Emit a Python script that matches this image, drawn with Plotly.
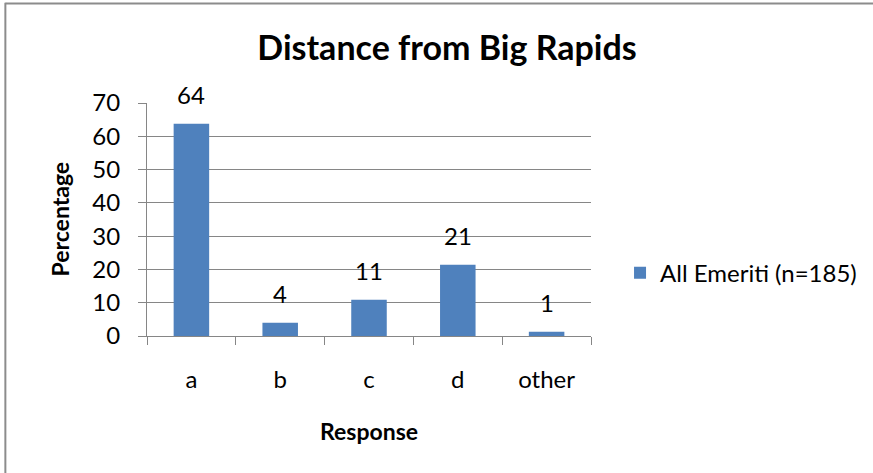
import plotly.graph_objects as go

categories = ["a", "b", "c", "d", "other"]
values = [63.8, 4.0, 10.9, 21.4, 1.3]
labels = ["64", "4", "11", "21", "1"]
y_ticks = [0, 10, 20, 30, 40, 50, 60, 70]

FONT = "Lato"
BAR = "#4F81BD"
GRID = "#868686"

fig = go.Figure()

fig.add_trace(
    go.Bar(
        x=categories,
        y=values,
        name="All Emeriti (n=185)",
        marker=dict(color=BAR, line=dict(width=0)),
        width=0.4,
    )
)

# data labels above bars
for cat, val, lab in zip(categories, values, labels):
    fig.add_annotation(
        x=cat, y=val, text=lab, showarrow=False,
        yanchor="bottom", yshift=13,
        font=dict(family=FONT, size=24, color="#000000"),
    )

fig.add_annotation(
    text="<b>Percentage</b>", xref="paper", yref="paper",
    x=0, y=0.5, xanchor="center", yanchor="middle", xshift=-88,
    textangle=-90, showarrow=False,
    font=dict(family=FONT, size=23, color="#000000"),
)
fig.add_annotation(
    text="<b>Response</b>", xref="paper", yref="paper",
    x=0.5, y=0, xanchor="center", yanchor="middle", yshift=-95,
    showarrow=False,
    font=dict(family=FONT, size=23, color="#000000"),
)

# outer chart border (left and top only visible)
fig.add_shape(type="line", xref="paper", yref="paper",
              x0=-0.319, x1=-0.319, y0=-0.6, y1=1.43,
              line=dict(color="#8c8c8c", width=2))
fig.add_shape(type="line", xref="paper", yref="paper",
              x0=-0.319, x1=1.65, y0=1.427, y1=1.427,
              line=dict(color="#8c8c8c", width=2))

fig.update_layout(
    width=873,
    height=473,
    paper_bgcolor="#ffffff",
    plot_bgcolor="#ffffff",
    margin=dict(l=147, r=281, t=103, b=137),
    title=dict(
        text="<b>Distance from Big Rapids</b>",
        x=447 / 873, xanchor="center",
        y=1 - 48 / 473, yanchor="middle", yref="container",
        font=dict(family=FONT, size=34, color="#000000"),
    ),
    showlegend=True,
    legend=dict(
        x=1.063, xanchor="left", y=0.27, yanchor="middle",
        font=dict(family=FONT, size=24, color="#000000"),
        itemwidth=30,
        bgcolor="rgba(0,0,0,0)",
    ),
    bargap=0.6,
    font=dict(family=FONT, size=24, color="#000000"),
)

fig.update_xaxes(
    type="category",
    showline=True, linecolor=GRID, linewidth=1,
    ticks="outside", tickson="boundaries", ticklen=8, tickcolor=GRID,
    showgrid=False,
    ticklabelstandoff=22,
    tickfont=dict(family=FONT, size=24, color="#000000"),
)
fig.update_yaxes(
    range=[0, 70],
    tickvals=y_ticks,
    showline=True, linecolor=GRID, linewidth=1,
    ticks="outside", ticklen=8, tickcolor=GRID,
    showgrid=True, gridcolor=GRID, gridwidth=1,
    zeroline=False,
    ticklabelstandoff=13,
    tickfont=dict(family=FONT, size=24, color="#000000"),
)

fig.write_html(
    "out.html",
    config={"displayModeBar": False},
    post_script="document.body.style.margin='0';",
)
